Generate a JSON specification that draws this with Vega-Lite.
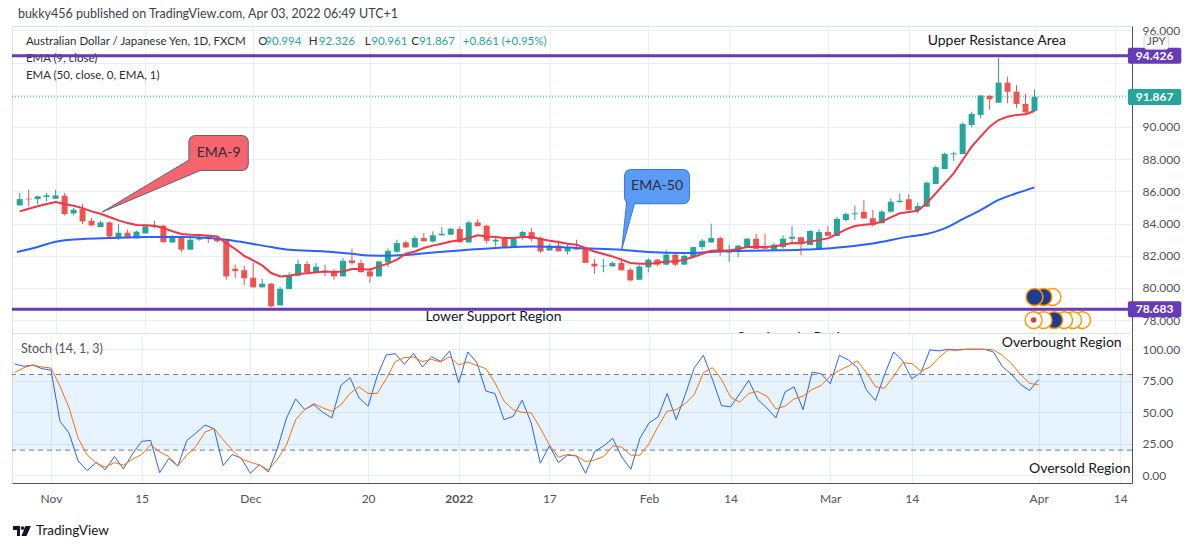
{
"$schema":"https://vega.github.io/schema/vega-lite/v6.json",
"padding":{"left":10,"top":7,"right":0,"bottom":0},
"background":"white",
"spacing":0,
"bounds":"flush",
"config":{"font":"Lato","view":{"stroke":"#e0e3eb"},"axis":{"labelFont":"Lato","labelFontSize":12,"labelColor":"#50535e","ticks":false,"gridColor":"#e8eef4","domainColor":"#50535e","labelFlush":false}},
"datasets":{
"candles":[
{"i":-4,"o":85.13,"h":85.9,"l":85.13,"c":85.52,"e9":84.76,"k":88.3,"d":81.5},
{"i":-3,"o":85.55,"h":86.1,"l":85.07,"c":85.5,"e9":84.92,"k":86.5,"d":85.4},
{"i":-2,"o":85.52,"h":85.73,"l":85.19,"c":85.69,"e9":85.08,"k":87.5,"d":87.5},
{"i":-1,"o":85.65,"h":85.9,"l":85.38,"c":85.75,"e9":85.22,"k":84.6,"d":85.9},
{"i":0,"o":85.54,"h":86.1,"l":85.54,"c":85.75,"e9":85.34,"k":83.5,"d":85.1},
{"i":1,"o":85.73,"h":85.9,"l":84.5,"c":84.59,"e9":85.21,"k":42.8,"d":70.7},
{"i":2,"o":84.63,"h":84.96,"l":84.5,"c":84.86,"e9":85.11,"k":33.5,"d":53.5},
{"i":3,"o":84.9,"h":85.23,"l":83.97,"c":84.14,"e9":84.96,"k":11.4,"d":29.5},
{"i":4,"o":84.18,"h":84.34,"l":83.83,"c":83.89,"e9":84.76,"k":3.7,"d":16.2},
{"i":5,"o":83.78,"h":84.18,"l":83.78,"c":84.07,"e9":84.61,"k":10.4,"d":9.6},
{"i":6,"o":84.07,"h":84.14,"l":83.14,"c":83.2,"e9":84.41,"k":4.3,"d":6.4},
{"i":7,"o":83.16,"h":83.97,"l":83.0,"c":83.43,"e9":84.2,"k":14.9,"d":10.1},
{"i":8,"o":83.43,"h":83.62,"l":83.08,"c":83.09,"e9":84.03,"k":5.1,"d":8.0},
{"i":9,"o":83.08,"h":83.56,"l":83.08,"c":83.5,"e9":83.91,"k":17.0,"d":12.8},
{"i":10,"o":83.39,"h":83.93,"l":83.39,"c":83.83,"e9":83.89,"k":26.9,"d":16.5},
{"i":11,"o":83.78,"h":84.18,"l":83.72,"c":83.89,"e9":83.87,"k":27.7,"d":24.2},
{"i":12,"o":83.87,"h":83.93,"l":82.83,"c":82.84,"e9":83.72,"k":2.1,"d":18.6},
{"i":13,"o":82.83,"h":83.27,"l":82.79,"c":83.1,"e9":83.52,"k":13.3,"d":14.9},
{"i":14,"o":83.14,"h":83.2,"l":82.21,"c":82.38,"e9":83.35,"k":7.4,"d":7.4},
{"i":15,"o":82.38,"h":83.1,"l":82.38,"c":83.0,"e9":83.31,"k":27.7,"d":16.2},
{"i":16,"o":83.0,"h":83.3,"l":82.94,"c":83.14,"e9":83.29,"k":33.5,"d":22.9},
{"i":17,"o":83.2,"h":83.3,"l":82.79,"c":83.06,"e9":83.25,"k":39.9,"d":34.3},
{"i":18,"o":83.1,"h":83.2,"l":82.83,"c":82.9,"e9":83.2,"k":37.0,"d":37.2},
{"i":19,"o":82.94,"h":83.0,"l":80.51,"c":80.72,"e9":82.79,"k":7.7,"d":28.2},
{"i":20,"o":81.2,"h":81.45,"l":80.62,"c":81.05,"e9":82.42,"k":16.5,"d":20.2},
{"i":21,"o":81.1,"h":81.38,"l":80.16,"c":80.6,"e9":82.0,"k":13.6,"d":13.0},
{"i":22,"o":80.64,"h":81.55,"l":80.04,"c":80.04,"e9":81.71,"k":1.6,"d":10.4},
{"i":23,"o":80.04,"h":80.58,"l":80.04,"c":80.27,"e9":81.4,"k":8.5,"d":8.2},
{"i":24,"o":80.27,"h":80.31,"l":78.8,"c":78.86,"e9":80.93,"k":2.7,"d":4.3},
{"i":25,"o":78.92,"h":80.06,"l":78.92,"c":79.95,"e9":80.72,"k":21.5,"d":12.8},
{"i":26,"o":79.93,"h":80.97,"l":79.93,"c":80.8,"e9":80.76,"k":45.5,"d":24.2},
{"i":27,"o":80.76,"h":81.76,"l":80.72,"c":81.49,"e9":80.87,"k":60.6,"d":44.1},
{"i":28,"o":81.49,"h":81.66,"l":80.93,"c":80.97,"e9":80.91,"k":52.1,"d":52.1},
{"i":29,"o":80.99,"h":81.55,"l":80.89,"c":81.32,"e9":80.97,"k":56.1,"d":56.9},
{"i":30,"o":81.07,"h":81.45,"l":80.72,"c":80.97,"e9":81.03,"k":50.0,"d":53.5},
{"i":31,"o":81.01,"h":81.2,"l":80.51,"c":80.72,"e9":80.99,"k":45.5,"d":50.8},
{"i":32,"o":80.72,"h":81.86,"l":80.72,"c":81.69,"e9":81.03,"k":71.3,"d":55.9},
{"i":33,"o":81.71,"h":82.44,"l":81.45,"c":81.55,"e9":81.18,"k":77.4,"d":64.9},
{"i":34,"o":81.55,"h":81.76,"l":80.97,"c":80.98,"e9":81.18,"k":61.4,"d":70.2},
{"i":35,"o":81.03,"h":81.24,"l":80.31,"c":80.72,"e9":81.13,"k":54.8,"d":64.9},
{"i":36,"o":80.72,"h":81.69,"l":80.68,"c":81.65,"e9":81.34,"k":78.7,"d":64.9},
{"i":37,"o":81.59,"h":82.46,"l":81.3,"c":82.31,"e9":81.51,"k":95.5,"d":76.6},
{"i":38,"o":82.25,"h":83.0,"l":82.17,"c":82.79,"e9":81.76,"k":96.5,"d":90.2},
{"i":39,"o":82.83,"h":82.94,"l":82.48,"c":82.52,"e9":82.13,"k":88.0,"d":93.4},
{"i":40,"o":82.52,"h":83.25,"l":82.52,"c":83.1,"e9":82.27,"k":96.8,"d":93.9},
{"i":41,"o":83.1,"h":83.41,"l":82.89,"c":82.9,"e9":82.48,"k":85.9,"d":90.2},
{"i":42,"o":82.89,"h":83.52,"l":82.83,"c":83.27,"e9":82.63,"k":94.1,"d":92.0},
{"i":43,"o":83.27,"h":83.78,"l":83.27,"c":83.37,"e9":82.75,"k":90.4,"d":89.9},
{"i":44,"o":83.31,"h":83.72,"l":83.31,"c":83.68,"e9":82.89,"k":98.7,"d":94.1},
{"i":45,"o":83.66,"h":83.83,"l":82.83,"c":82.84,"e9":82.96,"k":73.4,"d":87.5},
{"i":46,"o":82.83,"h":84.18,"l":82.83,"c":84.07,"e9":83.1,"k":97.9,"d":89.9},
{"i":47,"o":84.07,"h":84.28,"l":83.83,"c":83.84,"e9":83.27,"k":89.4,"d":87.2},
{"i":48,"o":83.87,"h":83.93,"l":82.75,"c":82.93,"e9":83.2,"k":66.8,"d":84.6},
{"i":49,"o":82.89,"h":83.25,"l":82.58,"c":83.0,"e9":83.16,"k":64.9,"d":73.4},
{"i":50,"o":83.1,"h":83.2,"l":82.48,"c":82.52,"e9":83.1,"k":44.1,"d":58.8},
{"i":51,"o":82.52,"h":83.1,"l":82.52,"c":83.04,"e9":83.1,"k":46.8,"d":52.1},
{"i":52,"o":83.2,"h":83.56,"l":83.0,"c":83.47,"e9":83.16,"k":59.6,"d":50.0},
{"i":53,"o":83.47,"h":83.72,"l":82.89,"c":83.04,"e9":83.16,"k":41.5,"d":49.5},
{"i":54,"o":83.1,"h":83.2,"l":82.17,"c":82.27,"e9":83.04,"k":9.6,"d":37.5},
{"i":55,"o":82.33,"h":82.75,"l":82.33,"c":82.63,"e9":82.94,"k":23.4,"d":24.2},
{"i":56,"o":82.63,"h":82.94,"l":82.27,"c":82.28,"e9":82.85,"k":10.1,"d":14.4},
{"i":57,"o":82.27,"h":82.69,"l":82.07,"c":82.48,"e9":82.75,"k":16.0,"d":16.5},
{"i":58,"o":82.48,"h":83.0,"l":82.38,"c":82.39,"e9":82.69,"k":15.4,"d":15.4},
{"i":59,"o":82.48,"h":82.54,"l":81.55,"c":81.56,"e9":82.48,"k":1.6,"d":10.9},
{"i":60,"o":81.51,"h":81.8,"l":80.89,"c":81.34,"e9":82.27,"k":18.9,"d":12.2},
{"i":61,"o":81.34,"h":81.8,"l":80.98,"c":81.38,"e9":82.11,"k":23.4,"d":14.9},
{"i":62,"o":81.34,"h":81.65,"l":81.34,"c":81.55,"e9":81.96,"k":29.3,"d":23.4},
{"i":63,"o":81.55,"h":81.86,"l":81.09,"c":81.1,"e9":81.76,"k":14.4,"d":22.3},
{"i":64,"o":81.13,"h":81.24,"l":80.41,"c":80.47,"e9":81.55,"k":4.8,"d":16.0},
{"i":65,"o":80.51,"h":81.41,"l":80.51,"c":81.34,"e9":81.51,"k":29.5,"d":16.0},
{"i":66,"o":81.28,"h":81.86,"l":80.97,"c":81.76,"e9":81.51,"k":41.5,"d":25.0},
{"i":67,"o":81.76,"h":81.82,"l":81.34,"c":81.45,"e9":81.55,"k":46.3,"d":38.8},
{"i":68,"o":81.45,"h":82.34,"l":81.41,"c":82.07,"e9":81.65,"k":64.9,"d":50.8},
{"i":69,"o":82.07,"h":82.17,"l":81.34,"c":81.45,"e9":81.65,"k":44.1,"d":52.1},
{"i":70,"o":81.45,"h":82.07,"l":81.45,"c":82.0,"e9":81.76,"k":64.1,"d":56.9},
{"i":71,"o":81.92,"h":82.58,"l":81.92,"c":82.54,"e9":81.92,"k":85.4,"d":64.1},
{"i":72,"o":82.54,"h":83.04,"l":82.38,"c":82.94,"e9":82.13,"k":95.2,"d":81.4},
{"i":73,"o":82.83,"h":84.0,"l":82.83,"c":83.1,"e9":82.31,"k":76.1,"d":85.4},
{"i":74,"o":83.1,"h":83.2,"l":82.0,"c":82.27,"e9":82.33,"k":55.3,"d":76.1},
{"i":75,"o":82.21,"h":82.69,"l":81.61,"c":82.33,"e9":82.33,"k":54.3,"d":62.0},
{"i":76,"o":82.27,"h":82.69,"l":81.92,"c":82.63,"e9":82.42,"k":64.6,"d":58.0},
{"i":77,"o":82.52,"h":83.1,"l":82.52,"c":83.06,"e9":82.54,"k":75.3,"d":64.9},
{"i":78,"o":83.06,"h":83.37,"l":82.42,"c":82.43,"e9":82.54,"k":60.1,"d":66.5},
{"i":79,"o":82.48,"h":83.37,"l":82.44,"c":82.44,"e9":82.54,"k":53.5,"d":62.8},
{"i":80,"o":82.38,"h":82.79,"l":82.38,"c":82.69,"e9":82.58,"k":45.5,"d":52.7},
{"i":81,"o":82.54,"h":83.27,"l":82.44,"c":83.06,"e9":82.69,"k":66.0,"d":54.8},
{"i":82,"o":83.06,"h":83.85,"l":82.85,"c":83.18,"e9":82.79,"k":70.2,"d":60.6},
{"i":83,"o":83.15,"h":83.17,"l":82.03,"c":82.73,"e9":82.78,"k":52.1,"d":62.8},
{"i":84,"o":82.67,"h":83.6,"l":82.67,"c":83.54,"e9":82.88,"k":81.9,"d":68.1},
{"i":85,"o":82.36,"h":83.66,"l":82.36,"c":83.48,"e9":82.98,"k":80.6,"d":71.3},
{"i":86,"o":83.48,"h":83.85,"l":83.23,"c":83.24,"e9":83.08,"k":72.6,"d":78.7},
{"i":87,"o":83.23,"h":84.39,"l":83.23,"c":84.29,"e9":83.35,"k":95.2,"d":83.2},
{"i":88,"o":84.22,"h":84.68,"l":84.12,"c":84.6,"e9":83.64,"k":91.5,"d":86.7},
{"i":89,"o":84.58,"h":85.11,"l":84.22,"c":84.64,"e9":83.85,"k":85.4,"d":90.7},
{"i":90,"o":84.72,"h":85.47,"l":84.31,"c":84.32,"e9":83.93,"k":67.6,"d":81.4},
{"i":91,"o":84.33,"h":84.84,"l":83.81,"c":83.91,"e9":83.98,"k":59.3,"d":70.2},
{"i":92,"o":84.02,"h":84.84,"l":84.02,"c":84.74,"e9":84.12,"k":80.1,"d":69.1},
{"i":93,"o":84.74,"h":85.57,"l":84.68,"c":85.36,"e9":84.39,"k":97.9,"d":78.7},
{"i":94,"o":85.34,"h":85.88,"l":85.26,"c":85.42,"e9":84.64,"k":90.7,"d":89.4},
{"i":95,"o":85.51,"h":85.82,"l":84.84,"c":84.85,"e9":84.72,"k":76.6,"d":88.6},
{"i":96,"o":84.84,"h":85.3,"l":84.64,"c":85.09,"e9":84.8,"k":81.4,"d":82.7},
{"i":97,"o":85.05,"h":86.6,"l":85.05,"c":86.54,"e9":85.26,"k":99.5,"d":85.9},
{"i":98,"o":86.46,"h":87.6,"l":86.46,"c":87.5,"e9":85.88,"k":98.7,"d":93.4},
{"i":99,"o":87.39,"h":88.41,"l":87.39,"c":88.32,"e9":86.5,"k":100,"d":99.5},
{"i":100,"o":88.3,"h":88.47,"l":87.89,"c":88.36,"e9":87.12,"k":99.5,"d":99.2},
{"i":101,"o":88.32,"h":90.27,"l":88.32,"c":90.19,"e9":87.95,"k":100,"d":100},
{"i":102,"o":90.12,"h":90.95,"l":89.98,"c":90.81,"e9":88.78,"k":100,"d":100},
{"i":103,"o":90.75,"h":91.99,"l":90.54,"c":91.95,"e9":89.4,"k":100,"d":100},
{"i":104,"o":91.93,"h":91.99,"l":91.06,"c":91.72,"e9":90.02,"k":97.9,"d":99.5},
{"i":105,"o":91.51,"h":94.31,"l":91.51,"c":92.75,"e9":90.43,"k":86.2,"d":95.2},
{"i":106,"o":92.75,"h":93.13,"l":91.47,"c":92.19,"e9":90.64,"k":80.1,"d":88.6},
{"i":107,"o":92.19,"h":92.61,"l":91.16,"c":91.43,"e9":90.75,"k":72.1,"d":80.1},
{"i":108,"o":91.43,"h":92.05,"l":90.85,"c":90.91,"e9":90.79,"k":67.3,"d":72.9},
{"i":109,"o":90.994,"h":92.326,"l":90.961,"c":91.867,"e9":90.99,"k":76.1,"d":71.8}
],
"ema50":[
{"i":-4.3,"p":82.23},{"i":-2,"p":82.55},{"i":0,"p":82.87},{"i":3,"p":83.04},{"i":6,"p":83.1},{"i":10,"p":83.16},{"i":14,"p":83.16},{"i":17,"p":83.1},{"i":19,"p":83.0},{"i":21,"p":82.83},{"i":24,"p":82.54},{"i":26,"p":82.38},{"i":30,"p":82.27},{"i":33,"p":82.12},{"i":35,"p":82.02},{"i":37,"p":82.0},{"i":39,"p":82.05},{"i":42,"p":82.2},{"i":45,"p":82.33},{"i":49,"p":82.48},{"i":53,"p":82.58},{"i":56,"p":82.55},{"i":58,"p":82.48},{"i":63,"p":82.38},{"i":66,"p":82.23},{"i":70,"p":82.17},{"i":74,"p":82.27},{"i":79,"p":82.33},{"i":83,"p":82.38},{"i":86,"p":82.46},{"i":91,"p":82.77},{"i":95,"p":83.19},{"i":97,"p":83.35},{"i":99,"p":83.7},{"i":101,"p":84.27},{"i":103,"p":84.84},{"i":105,"p":85.47},{"i":107,"p":85.88},{"i":109,"p":86.25}
],
"boxes":[
{"t":"EMA-9","x1":14.89,"x2":21.4,"y1":89.44,"y2":87.33},
{"t":"EMA-50","x1":63.4,"x2":70.53,"y1":87.33,"y2":85.26},
{"t":"JPY","x1":121.2,"x2":123.95,"y1":95.7,"y2":94.83}
]
},
"vconcat":[
{
"width":1120,"height":307,
"encoding":{
"y":{"field":"p","type":"quantitative","title":null,"scale":{"domain":[77.205,96.27],"nice":false,"zero":false},"axis":{"orient":"right","values":[78,80,82,84,86,88,90,92,94,96],"format":".3f","labelExpr":"datum.value == 92 || datum.value == 94 ? '' : format(datum.value, '.3f')","labelPadding":10,"labelAlign":"left","domain":true,"grid":true,"title":null}}
},
"layer":[
{"data":{"name":"candles"},"mark":{"type":"rule","strokeWidth":1},
"encoding":{"x":{"field":"i","type":"quantitative","title":null,"scale":{"domain":[-4.3,119.3],"nice":false,"zero":false},"axis":{"orient":"bottom","values":[0,10,22,35,45,55,66,75,86,95,109,118],"labels":false,"ticks":false,"domain":true,"grid":true,"title":null,"minExtent":0,"maxExtent":0,"offset":0}},
"y":{"field":"l","type":"quantitative","title":null},"y2":{"field":"h"},
"color":{"condition":{"test":"datum.c >= datum.o","value":"#26a69a"},"value":"#ef5350"}}},
{"data":{"values":[
{"t":"Australian Dollar / Japanese Yen, 1D, FXCM","i":-3.31,"p":95.28},
{"t":"EMA (9, close)","i":-3.31,"p":94.22},
{"t":"EMA (50, close, 0, EMA, 1)","i":-3.31,"p":93.17}]},
"mark":{"type":"text","align":"left","baseline":"middle","fontSize":11.5,"color":"#2a2e39"},
"encoding":{"x":{"field":"i","type":"quantitative"},"text":{"field":"t"}}},
{"data":{"values":[
{"t":"O","i":22.55,"p":95.28},{"t":"H","i":28.2,"p":95.28},{"t":"L","i":34.42,"p":95.28},{"t":"C","i":39.6,"p":95.28}]},
"mark":{"type":"text","align":"left","baseline":"middle","fontSize":11.5,"color":"#2a2e39"},
"encoding":{"x":{"field":"i","type":"quantitative"},"text":{"field":"t"}}},
{"data":{"values":[
{"t":"90.994","i":23.35,"p":95.28},{"t":"92.326","i":29.3,"p":95.28},{"t":"90.961","i":35.15,"p":95.28},{"t":"91.867","i":40.45,"p":95.28},{"t":"+0.861 (+0.95%)","i":45.34,"p":95.28}]},
"mark":{"type":"text","align":"left","baseline":"middle","fontSize":11.5,"color":"#26a69a"},
"encoding":{"x":{"field":"i","type":"quantitative"},"text":{"field":"t"}}},
{"data":{"values":[{"t":"bukky456 published on TradingView.com, Apr 03, 2022 06:49 UTC+1","i":-4.2,"p":97.02}]},
"mark":{"type":"text","align":"left","baseline":"middle","fontSize":12.5,"color":"#3b3f4a"},
"encoding":{"x":{"field":"i","type":"quantitative"},"text":{"field":"t"}}},
{"data":{"name":"candles"},"mark":{"type":"bar","size":6},
"encoding":{"x":{"field":"i","type":"quantitative"},"y":{"field":"o","type":"quantitative","title":null},"y2":{"field":"c"},
"color":{"condition":{"test":"datum.c >= datum.o","value":"#26a69a"},"value":"#ef5350"}}},
{"data":{"name":"ema50"},"mark":{"type":"line","color":"#2962ff","strokeWidth":2,"interpolate":"monotone"},"encoding":{"x":{"field":"i","type":"quantitative"}}},
{"data":{"name":"candles"},"mark":{"type":"line","color":"#f23645","strokeWidth":2},
"encoding":{"x":{"field":"i","type":"quantitative"},"y":{"field":"e9","type":"quantitative","title":null}}},
{"data":{"values":[{"p":94.426},{"p":78.683}]},"mark":{"type":"rule","color":"#673ab7","strokeWidth":3},"encoding":{}},
{"data":{"values":[{"p":91.867}]},"mark":{"type":"rule","color":"#26a69a","strokeWidth":1,"strokeDash":[1,2]},"encoding":{}},
{"data":{"name":"boxes"},"transform":[{"filter":"datum.t == 'EMA-9'"}],"mark":{"type":"rect","fill":"#f7646e","stroke":"#4e6b7b","strokeWidth":2,"cornerRadius":6},
"encoding":{"x":{"field":"x1","type":"quantitative"},"x2":{"field":"x2"},"y":{"field":"y1","type":"quantitative","title":null},"y2":{"field":"y2"}}},
{"data":{"values":[{"o":1,"i":15.22,"p":88.07},{"o":2,"i":5.19,"p":84.72},{"o":3,"i":16.77,"p":87.45}]},
"mark":{"type":"line","interpolate":"linear-closed","fill":"#f7646e","stroke":"#4e6b7b","strokeWidth":1},
"encoding":{"x":{"field":"i","type":"quantitative"},"order":{"field":"o"}}},
{"data":{"name":"boxes"},"transform":[{"filter":"datum.t == 'EMA-9'"}],"mark":{"type":"rect","fill":"#f7646e","cornerRadius":6},
"encoding":{"x":{"field":"x1","type":"quantitative"},"x2":{"field":"x2"},"y":{"field":"y1","type":"quantitative","title":null},"y2":{"field":"y2"}}},
{"data":{"values":[{"t":"EMA-9","i":18.15,"p":88.4}]},"mark":{"type":"text","fontSize":14,"color":"#2a2e39","baseline":"middle"},
"encoding":{"x":{"field":"i","type":"quantitative"},"text":{"field":"t"}}},
{"data":{"name":"boxes"},"transform":[{"filter":"datum.t == 'EMA-50'"}],"mark":{"type":"rect","fill":"#5c9bf5","stroke":"#3b78e7","strokeWidth":2,"cornerRadius":6},
"encoding":{"x":{"field":"x1","type":"quantitative"},"x2":{"field":"x2"},"y":{"field":"y1","type":"quantitative","title":null},"y2":{"field":"y2"}}},
{"data":{"values":[{"o":1,"i":63.66,"p":85.71},{"o":2,"i":63.03,"p":82.36},{"o":3,"i":64.54,"p":85.4}]},
"mark":{"type":"line","interpolate":"linear-closed","fill":"#5c9bf5","stroke":"#3b78e7","strokeWidth":1},
"encoding":{"x":{"field":"i","type":"quantitative"},"order":{"field":"o"}}},
{"data":{"name":"boxes"},"transform":[{"filter":"datum.t == 'EMA-50'"}],"mark":{"type":"rect","fill":"#5c9bf5","cornerRadius":6},
"encoding":{"x":{"field":"x1","type":"quantitative"},"x2":{"field":"x2"},"y":{"field":"y1","type":"quantitative","title":null},"y2":{"field":"y2"}}},
{"data":{"values":[{"t":"EMA-50","i":66.97,"p":86.34}]},"mark":{"type":"text","fontSize":14,"color":"#2a2e39","baseline":"middle"},
"encoding":{"x":{"field":"i","type":"quantitative"},"text":{"field":"t"}}},
{"data":{"values":[{"t":"Upper Resistance Area","i":104.8,"p":95.34},{"t":"Lower Support Region","i":48.76,"p":78.2}]},
"mark":{"type":"text","fontSize":14,"color":"#131722","baseline":"middle"},"encoding":{"x":{"field":"i","type":"quantitative"},"text":{"field":"t"}}},
{"data":{"values":[{"t":"Overbought Region","i":82.41,"p":76.88}]},
"mark":{"type":"text","fontSize":14,"color":"#131722","baseline":"middle","clip":true},"encoding":{"x":{"field":"i","type":"quantitative"},"text":{"field":"t"}}},
{"data":{"values":[{"i":111.0,"p":79.44,"f":"plain"},{"i":110.0,"p":79.44,"f":"nz"},{"i":109.0,"p":79.44,"f":"au"},
{"i":114.3,"p":78.01,"f":"plain"},{"i":113.3,"p":78.01,"f":"plain"},{"i":112.3,"p":78.01,"f":"plain"},{"i":111.2,"p":78.01,"f":"nz"},{"i":110.0,"p":78.01,"f":"plain"},{"i":108.9,"p":78.01,"f":"jp"}]},
"mark":{"type":"point","shape":"circle","filled":true,"size":283,"stroke":"#ff9800","strokeWidth":1.5,"opacity":1},
"encoding":{"x":{"field":"i","type":"quantitative"},"fill":{"field":"f","type":"nominal","legend":null,"scale":{"domain":["au","nz","jp","plain"],"range":["#1f3d8f","#1f3d8f","#ffffff","#ffffff"]}}}},
{"data":{"values":[{"i":108.9,"p":78.01}]},"mark":{"type":"point","shape":"circle","filled":true,"size":30,"color":"#e53935","opacity":1},"encoding":{"x":{"field":"i","type":"quantitative"}}},
{"data":{"values":[{"p":94.426,"t":"94.426","k":"res"},{"p":91.867,"t":"91.867","k":"last"},{"p":78.683,"t":"78.683","k":"sup"}]},
"mark":{"type":"rect","yOffset":-8,"y2Offset":8,"cornerRadius":2},
"encoding":{"x":{"datum":119.4,"type":"quantitative"},"x2":{"datum":125.35},"y2":{"field":"p"},
"color":{"field":"k","type":"nominal","legend":null,"scale":{"domain":["res","last","sup"],"range":["#673ab7","#26a69a","#673ab7"]}}}},
{"data":{"values":[{"p":94.426,"t":"94.426"},{"p":91.867,"t":"91.867"},{"p":78.683,"t":"78.683"}]},
"mark":{"type":"text","color":"white","fontWeight":"bold","fontSize":12,"baseline":"middle"},
"encoding":{"x":{"datum":122.38,"type":"quantitative"},"text":{"field":"t"}}},
{"data":{"name":"boxes"},"transform":[{"filter":"datum.t == 'JPY'"}],"mark":{"type":"rect","fill":"white","stroke":"#d1d4dc","strokeWidth":1,"cornerRadius":3},
"encoding":{"x":{"field":"x1","type":"quantitative"},"x2":{"field":"x2"},"y":{"field":"y1","type":"quantitative","title":null},"y2":{"field":"y2"}}},
{"data":{"values":[{"t":"JPY","i":122.57,"p":95.28}]},"mark":{"type":"text","color":"#50535e","fontSize":11.5,"baseline":"middle"},
"encoding":{"x":{"field":"i","type":"quantitative"},"text":{"field":"t"}}}
]
},
{
"width":1120,"height":150,
"encoding":{
"y":{"field":"v","type":"quantitative","title":null,"scale":{"domain":[-6.1,112.9],"nice":false,"zero":false},"axis":{"orient":"right","values":[0,25,50,75,100],"format":".2f","labelPadding":10,"labelAlign":"left","domain":true,"grid":true,"title":null}}
},
"layer":[
{"data":{"values":[{"lo":20,"hi":80}]},"mark":{"type":"rect","fill":"#2196f3","opacity":0.11},
"encoding":{"y":{"field":"lo","type":"quantitative","title":null},"y2":{"field":"hi"}}},
{"data":{"values":[{"v":80},{"v":20}]},"mark":{"type":"rule","color":"#787b86","strokeWidth":1,"strokeDash":[5,4]},"encoding":{}},
{"data":{"name":"candles"},"mark":{"type":"line","color":"#2962ff","strokeWidth":1},
"encoding":{"x":{"field":"i","type":"quantitative","title":null,"scale":{"domain":[-4.3,119.3],"nice":false,"zero":false},"axis":{"orient":"bottom","values":[0,10,22,35,45,55,66,75,86,95,109,118],"labelExpr":"datum.value==0?'Nov':datum.value==10?'15':datum.value==22?'Dec':datum.value==35?'20':datum.value==45?'2022':datum.value==55?'17':datum.value==66?'Feb':datum.value==75?'14':datum.value==86?'Mar':datum.value==95?'14':datum.value==109?'Apr':'14'","labelPadding":10,"labelFontWeight":{"condition":{"test":"datum.value == 45","value":"bold"},"value":"normal"},"ticks":false,"domain":true,"grid":true,"title":null}},
"y":{"field":"k","type":"quantitative","title":null}}},
{"data":{"name":"candles"},"mark":{"type":"line","color":"#ff6d00","strokeWidth":1},
"encoding":{"x":{"field":"i","type":"quantitative"},"y":{"field":"d","type":"quantitative","title":null}}},
{"data":{"values":[{"t":"Stoch (14, 1, 3)","i":-3.31,"v":100.2}]},"mark":{"type":"text","align":"left","baseline":"middle","fontSize":12.5,"color":"#50535e"},
"encoding":{"x":{"field":"i","type":"quantitative"},"text":{"field":"t"}}},
{"data":{"values":[{"t":"Overbought Region","i":111.54,"v":105.0},{"t":"Oversold Region","i":113.53,"v":5.0}]},
"mark":{"type":"text","fontSize":14,"color":"#131722","baseline":"middle"},"encoding":{"x":{"field":"i","type":"quantitative"},"text":{"field":"t"}}},
{"data":{"values":[{"t":"TradingView","i":-1.65,"v":-44.2}]},"mark":{"type":"text","align":"left","baseline":"middle","fontSize":13.5,"color":"#131722"},
"encoding":{"x":{"field":"i","type":"quantitative"},"text":{"field":"t"}}},
{"data":{"values":[{"i":-3.2,"v":-44.2}]},"mark":{"type":"point","filled":true,"opacity":1,"color":"#131722","size":4,
"shape":"M-9,-5 H-2 V5 H-5 V-1 H-9 Z M-1.2,-3 A1.8,1.8 0 1,0 2.4,-3 A1.8,1.8 0 1,0 -1.2,-3 Z M3.5,-5 H9 L4.5,5 H-0.5 Z"},"encoding":{"x":{"field":"i","type":"quantitative"}}}
]
}
]
}
